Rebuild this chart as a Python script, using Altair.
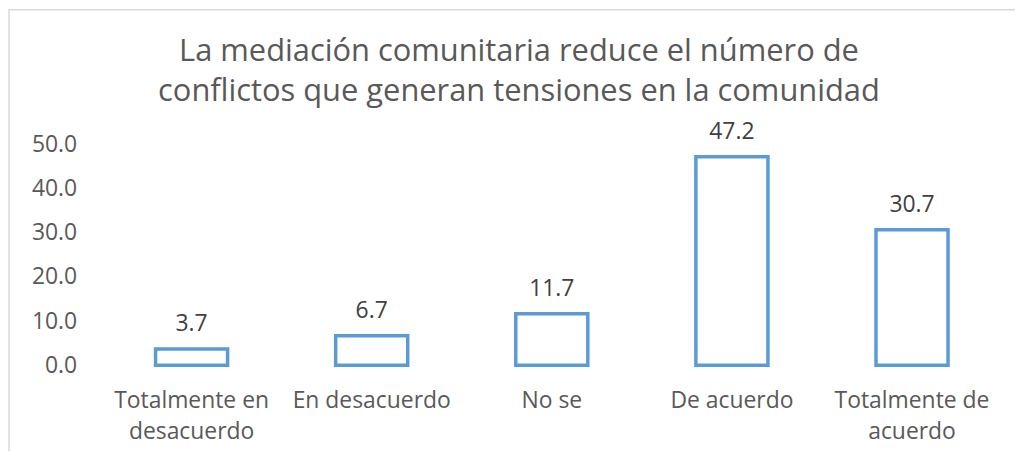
import altair as alt
import pandas as pd

categories = ["Totalmente en desacuerdo", "En desacuerdo", "No se", "De acuerdo", "Totalmente de acuerdo"]
values = [3.7, 6.7, 11.7, 47.2, 30.7]
title_lines = ["La mediación comunitaria reduce el número de",
               "conflictos que generan tensiones en la comunidad"]
y_ticks = [0, 10, 20, 30, 40, 50]

df = pd.DataFrame({"cat": categories, "val": values})

W, H = 905, 222
PL, PT, PR, PB = 94, 136, 13, 85
FONT = "Open Sans"

label_expr = ("datum.label == 'Totalmente en desacuerdo' ? ['Totalmente en', 'desacuerdo'] : "
              "datum.label == 'Totalmente de acuerdo' ? ['Totalmente de', 'acuerdo'] : datum.label")

base = alt.Chart(df)

x_enc = alt.X("cat:N", sort=categories, title=None,
              scale=alt.Scale(paddingInner=0.6, paddingOuter=0.3),
              axis=alt.Axis(labelAngle=0, labelExpr=label_expr, labelFont=FONT, labelFontSize=23,
                            labelColor="#595959", labelPadding=24, labelLineHeight=32,
                            labelLimit=400, domain=False, ticks=False, grid=False))
y_enc = alt.Y("val:Q", title=None,
              scale=alt.Scale(domain=[0, 50], nice=False),
              axis=alt.Axis(values=y_ticks, format=".1f", labelFont=FONT, labelFontSize=23,
                            labelColor="#595959", labelPadding=25, domain=False,
                            ticks=False, grid=False))

bars = base.mark_bar(fill="white", stroke="#5B9BD5", strokeWidth=3.5).encode(x=x_enc, y=y_enc)

labels = base.mark_text(font=FONT, fontSize=23, color="#404040", baseline="alphabetic", dy=-18).encode(
    x=alt.X("cat:N", sort=categories),
    y=alt.Y("val:Q"),
    text=alt.Text("val:Q", format=".1f"),
)

border = alt.Chart(pd.DataFrame({"b": [0]})).mark_rect(
    fill=None, stroke="#d9d9d9", strokeWidth=1.5, clip=False
).encode(
    x=alt.value(-PL + 1), x2=alt.value(W + PR + 40),
    y=alt.value(-PT + 0.75), y2=alt.value(H + PB + 40),
)

chart = alt.layer(border, bars, labels).properties(
    width=W, height=H,
    padding={"left": PL, "top": PT, "right": PR, "bottom": PB},
    autosize=alt.AutoSizeParams(type="none"),
    title=alt.TitleParams(text=title_lines, font=FONT, fontSize=31, fontWeight="normal",
                          color="#595959", anchor="middle", frame="group", dx=-33,
                          offset=20, dy=119, lineHeight=40),
).configure(background="white", view=alt.ViewConfig(strokeWidth=0))

chart.save("out.html", embed_options={"renderer": "svg", "actions": False})
